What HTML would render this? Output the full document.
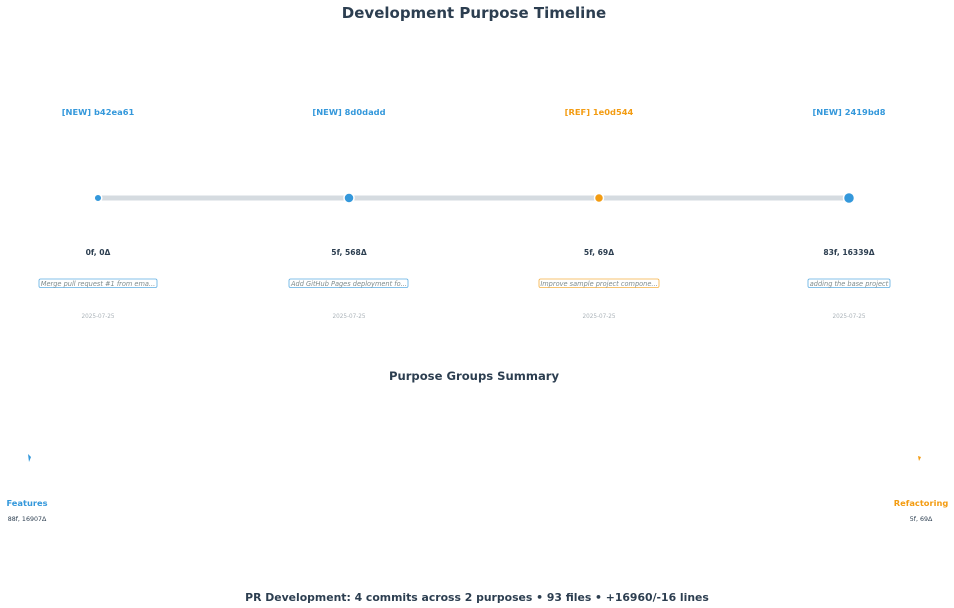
<!DOCTYPE html>
<html><head><meta charset="utf-8"><style>
html,body{margin:0;padding:0;background:#fff;width:954px;height:608px;overflow:hidden}
svg{display:block;font-family:"DejaVu Sans","Liberation Sans",sans-serif}
</style></head><body>
<svg width="954" height="608" viewBox="0 0 954 608">
<text x="474" y="18" text-anchor="middle" font-size="15" font-weight="bold" fill="#2c3e50">Development Purpose Timeline</text>
<line x1="98" y1="198" x2="849" y2="198" stroke="#d5dbe0" stroke-width="5"/>
<g font-size="8.3" font-weight="bold" text-anchor="middle">
<text x="98" y="115" fill="#3498db">[NEW] b42ea61</text>
<text x="349" y="115" fill="#3498db">[NEW] 8d0dadd</text>
<text x="599" y="115" fill="#f39c12">[REF] 1e0d544</text>
<text x="849" y="115" fill="#3498db">[NEW] 2419bd8</text>
</g>
<circle cx="98" cy="198" r="3.8" fill="#3498db" stroke="#fff" stroke-width="1.5"/>
<circle cx="349" cy="198" r="5" fill="#3498db" stroke="#fff" stroke-width="1.5"/>
<circle cx="599" cy="198" r="4.5" fill="#f39c12" stroke="#fff" stroke-width="1.5"/>
<circle cx="849" cy="198" r="5.5" fill="#3498db" stroke="#fff" stroke-width="1.5"/>
<g font-size="7.6" font-weight="bold" text-anchor="middle" fill="#2c3e50">
<text x="98" y="255">0f, 0Δ</text>
<text x="349" y="255">5f, 568Δ</text>
<text x="599" y="255">5f, 69Δ</text>
<text x="849" y="255">83f, 16339Δ</text>
</g>
<g fill="#fff" stroke-width="0.8">
<rect x="39" y="279" width="118" height="8.5" rx="1.5" stroke="#5dade2"/>
<rect x="289" y="279" width="119" height="8.5" rx="1.5" stroke="#5dade2"/>
<rect x="539" y="279" width="120" height="8.5" rx="1.5" stroke="#f5b041"/>
<rect x="808" y="279" width="82" height="8.5" rx="1.5" stroke="#5dade2"/>
</g>
<g font-size="6.6" font-style="italic" text-anchor="middle" fill="#7f8c8d">
<text x="98" y="285.8">Merge pull request #1 from ema...</text>
<text x="349" y="285.8">Add GitHub Pages deployment fo...</text>
<text x="599" y="285.8">Improve sample project compone...</text>
<text x="849" y="285.8">adding the base project</text>
</g>
<g font-size="5.7" text-anchor="middle" fill="#aab2b8">
<text x="98" y="318">2025-07-25</text>
<text x="349" y="318">2025-07-25</text>
<text x="599" y="318">2025-07-25</text>
<text x="849" y="318">2025-07-25</text>
</g>
<text x="474" y="380" text-anchor="middle" font-size="11.6" font-weight="bold" fill="#2c3e50">Purpose Groups Summary</text>
<path d="M28 454 L31 457 L29 462 Z" fill="#3498db"/>
<path d="M918 456 L921 457 L919 461 Z" fill="#f39c12"/>
<text x="27" y="506" text-anchor="middle" font-size="8.3" font-weight="bold" fill="#3498db">Features</text>
<text x="27" y="521" text-anchor="middle" font-size="6.3" fill="#2c3e50">88f, 16907Δ</text>
<text x="921" y="506" text-anchor="middle" font-size="8.3" font-weight="bold" fill="#f39c12">Refactoring</text>
<text x="921" y="521" text-anchor="middle" font-size="6.3" fill="#2c3e50">5f, 69Δ</text>
<text x="477" y="601" text-anchor="middle" font-size="10.85" font-weight="bold" fill="#2c3e50">PR Development: 4 commits across 2 purposes • 93 files • +16960/-16 lines</text>
</svg>
</body></html>
